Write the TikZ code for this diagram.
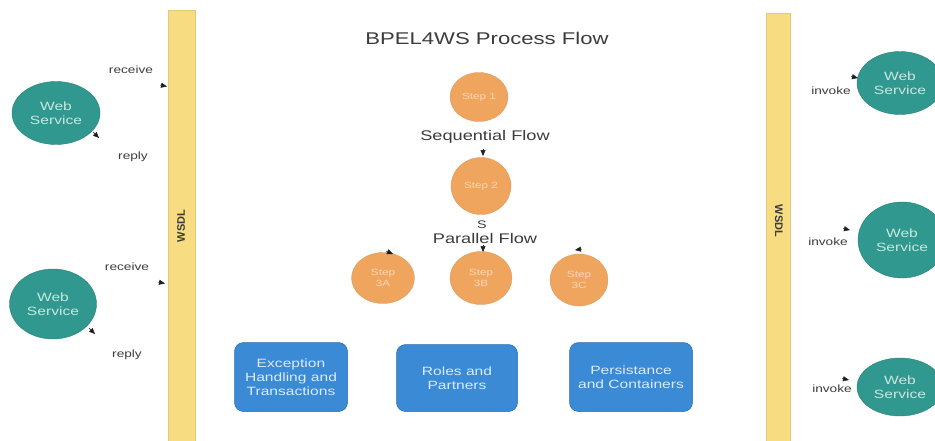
\documentclass[tikz,border=0pt]{standalone}
\usepackage{fontspec}
\setmainfont{Liberation Sans}[FakeStretch=1.3]
\newfontfamily\plainsans{Liberation Sans}
\usetikzlibrary{shapes.geometric,arrows.meta}
\definecolor{wsteal}{RGB}{48,152,142}
\definecolor{wstext}{RGB}{200,232,225}
\definecolor{steporange}{RGB}{240,165,95}
\definecolor{steptext}{RGB}{250,215,185}
\definecolor{boxblue}{RGB}{58,138,214}
\definecolor{boxtext}{RGB}{220,235,250}
\definecolor{baryellow}{RGB}{248,220,130}
\definecolor{inkgray}{RGB}{60,60,60}
\definecolor{tipc}{RGB}{30,30,30}
\begin{document}
\begin{tikzpicture}[x=1pt,y=-1pt,
  ws/.style={ellipse, fill=wsteal, draw=wsteal!85!black, line width=0.4pt, inner sep=0pt,
    text=wstext, font=\fontsize{12}{13.5}\selectfont, align=center},
  stepc/.style={ellipse, fill=steporange, draw=steporange!90!black, line width=0.3pt, inner sep=0pt,
    text=steptext, font=\fontsize{9}{11}\selectfont, align=center},
  blk/.style={rectangle, rounded corners=9pt, fill=boxblue, draw=boxblue!80!black, line width=0.5pt,
    inner sep=0pt, text=boxtext, font=\fontsize{12}{14}\selectfont, align=center},
  barbox/.style={rectangle, fill=baryellow, draw=baryellow!92!black, line width=0.3pt, inner sep=0pt},
  wsdl/.style={text=inkgray, font=\plainsans\bfseries\fontsize{11}{12}\selectfont},
  small/.style={text=inkgray, font=\fontsize{10.5}{12}\selectfont},
  flowlbl/.style={text=inkgray, font=\fontsize{14}{16}\selectfont},
  tip/.style={-{Triangle[length=6pt,width=5pt]}, draw=tipc, fill=tipc, line width=0.5pt}
]
\fill[white] (0,0) rectangle (935,440);
\useasboundingbox (0,0) rectangle (935,440);

% WSDL bars
\node[barbox, minimum width=27pt, minimum height=432pt] (lbar) at (181.5,226) {};
\node[barbox, minimum width=24pt, minimum height=428pt] (rbar) at (778,227) {};
\node[wsdl, rotate=90] (lwsdl) at (181,226) {WSDL};
\node[wsdl, rotate=-90] (rwsdl) at (779,221) {WSDL};

% title
\node[text=inkgray, font=\fontsize{17}{20}\selectfont] (title) at (487,38) {BPEL4WS Process Flow};

% left web services
\node[ws, minimum width=88pt, minimum height=63pt] (ws1) at (56,113) {Web\\Service};
\node[ws, minimum width=87pt, minimum height=70pt] (ws2) at (53,304) {Web\\Service};
% right web services
\node[ws, minimum width=86pt, minimum height=63pt] (ws3) at (900,83) {Web\\Service};
\node[ws, minimum width=88pt, minimum height=76pt] (ws4) at (902,240) {Web\\Service};
\node[ws, minimum width=86pt, minimum height=58pt] (ws5) at (900,387) {Web\\Service};

% labels left
\node[small] (rc1) at (131,70) {receive};
\node[small] (rp1) at (133,157) {reply};
\node[small] (rc2) at (127,267) {receive};
\node[small] (rp2) at (127,355) {reply};
% labels right
\node[small] (iv1) at (831,91) {invoke};
\node[small] (iv2) at (828,242) {invoke};
\node[small] (iv3) at (832,389) {invoke};

% steps
\node[stepc, minimum width=58pt, minimum height=49pt] (s1) at (479,97) {Step 1};
\node[flowlbl] (seq) at (485,137) {Sequential Flow};
\node[stepc, minimum width=60pt, minimum height=57pt] (s2) at (481,186) {Step 2};
\node[text=inkgray, font=\fontsize{11}{12}\selectfont] (sch) at (482,225) {S};
\node[flowlbl] (par) at (485,238) {Parallel Flow};
\node[stepc, minimum width=63pt, minimum height=51pt] (s3a) at (383,278) {Step\\3A};
\node[stepc, minimum width=62pt, minimum height=53pt] (s3b) at (481,278) {Step\\3B};
\node[stepc, minimum width=58pt, minimum height=52pt] (s3c) at (579,280) {Step\\3C};

% boxes
\node[blk, minimum width=113pt, minimum height=69pt] (b1) at (291,377) {Exception\\Handling and\\Transactions};
\node[blk, minimum width=121pt, minimum height=67pt] (b2) at (457,378) {Roles and\\Partners};
\node[blk, minimum width=123pt, minimum height=69pt] (b3) at (631,377) {Persistance\\and Containers};

% arrow tips (connectors)
\coordinate (r1s) at (160,85);  \coordinate (r1e) at (167,86.5);
\coordinate (p1s) at (93,132);  \coordinate (p1e) at (99,138);
\coordinate (r2s) at (158,282); \coordinate (r2e) at (165,283.5);
\coordinate (p2s) at (89,328);  \coordinate (p2e) at (95,334);
\coordinate (i1s) at (851,76.5);  \coordinate (i1e) at (858,78);
\coordinate (i2s) at (843,228.5); \coordinate (i2e) at (850,230);
\coordinate (i3s) at (842,378.5); \coordinate (i3e) at (849,380);
\coordinate (sqs) at (483,149); \coordinate (sqe) at (483,156);
\coordinate (pas) at (483,245); \coordinate (pae) at (483,252);
\coordinate (tas) at (386,251); \coordinate (tae) at (393,254);
\coordinate (tcs) at (582,249); \coordinate (tce) at (575,250);
\draw[tip] (r1s) -- (r1e);
\draw[tip] (p1s) -- (p1e);
\draw[tip] (r2s) -- (r2e);
\draw[tip] (p2s) -- (p2e);
\draw[tip] (i1s) -- (i1e);
\draw[tip] (i2s) -- (i2e);
\draw[tip] (i3s) -- (i3e);
\draw[tip] (sqs) -- (sqe);
\draw[tip] (pas) -- (pae);
\draw[tip] (tas) -- (tae);
\draw[tip] (tcs) -- (tce);
\end{tikzpicture}
\end{document}
